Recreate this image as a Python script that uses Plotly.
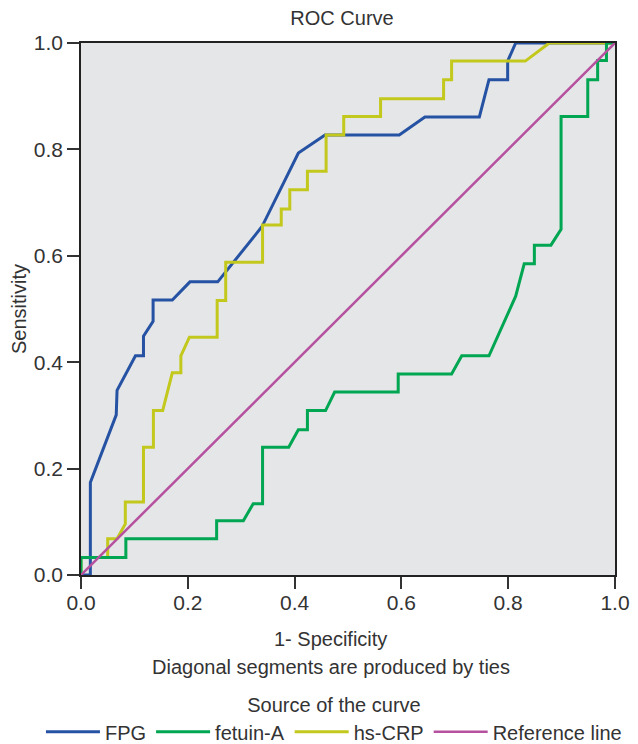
import plotly.graph_objects as go

# ---- data ----
fpg_x = [0, 0.0175, 0.0175, 0.066, 0.0675, 0.102, 0.117, 0.117, 0.135, 0.135, 0.171, 0.204,
         0.256, 0.339, 0.407, 0.457, 0.596, 0.644, 0.746, 0.764, 0.799, 0.799, 0.814, 1.0]
fpg_y = [0, 0, 0.174, 0.301, 0.347, 0.412, 0.412, 0.449, 0.477, 0.517, 0.517, 0.551,
         0.551, 0.655, 0.793, 0.827, 0.827, 0.861, 0.861, 0.931, 0.931, 0.966, 1.0, 1.0]

fetuin_x = [0, 0, 0.084, 0.084, 0.254, 0.254, 0.304, 0.3225, 0.340, 0.340, 0.389, 0.407,
            0.424, 0.424, 0.458, 0.475, 0.594, 0.594, 0.694, 0.713, 0.764, 0.814, 0.830,
            0.849, 0.849, 0.880, 0.899, 0.899, 0.949, 0.949, 0.9675, 0.9675, 0.984, 0.984, 1.0]
fetuin_y = [0, 0.033, 0.033, 0.068, 0.068, 0.102, 0.102, 0.134, 0.134, 0.240, 0.240, 0.273,
            0.273, 0.309, 0.309, 0.344, 0.344, 0.378, 0.378, 0.412, 0.412, 0.524, 0.585,
            0.585, 0.620, 0.620, 0.650, 0.862, 0.862, 0.931, 0.931, 0.967, 0.967, 1.0, 1.0]

crp_x = [0, 0, 0.05, 0.05, 0.0675, 0.083, 0.083, 0.117, 0.117, 0.1356, 0.1356, 0.153, 0.171,
         0.187, 0.187, 0.203, 0.255, 0.255, 0.271, 0.271, 0.340, 0.340, 0.375, 0.375, 0.391,
         0.391, 0.424, 0.424, 0.459, 0.459, 0.492, 0.492, 0.561, 0.561, 0.679, 0.679, 0.694,
         0.694, 0.832, 0.877, 1.0]
crp_y = [0, 0.033, 0.033, 0.068, 0.068, 0.096, 0.137, 0.137, 0.240, 0.240, 0.309, 0.309, 0.380,
         0.380, 0.412, 0.447, 0.447, 0.516, 0.516, 0.588, 0.588, 0.658, 0.658, 0.688, 0.688,
         0.724, 0.724, 0.759, 0.759, 0.827, 0.827, 0.862, 0.862, 0.895, 0.895, 0.931, 0.931,
         0.966, 0.966, 1.0, 1.0]

ref_x = [0, 1]
ref_y = [0, 1]

tick_vals = [0, 0.2, 0.4, 0.6, 0.8, 1.0]
tick_text = ["0.0", "0.2", "0.4", "0.6", "0.8", "1.0"]

FONT = "Liberation Sans, Arial, sans-serif"
TXT = "#333333"

fig = go.Figure()
fig.add_trace(go.Scatter(x=fpg_x, y=fpg_y, mode="lines", name="FPG", legendrank=1,
                         line=dict(color="#2552a3", width=3)))
fig.add_trace(go.Scatter(x=crp_x, y=crp_y, mode="lines", name="hs-CRP", legendrank=3,
                         line=dict(color="#c3c81c", width=3)))
fig.add_trace(go.Scatter(x=fetuin_x, y=fetuin_y, mode="lines", name="fetuin-A", legendrank=2,
                         line=dict(color="#00a651", width=3)))
fig.add_trace(go.Scatter(x=ref_x, y=ref_y, mode="lines", name="Reference line", legendrank=4,
                         line=dict(color="#b5519f", width=2.5)))

axis_common = dict(range=[0, 1], tickvals=tick_vals, ticktext=tick_text, ticks="outside",
                   ticklen=12, tickwidth=1.5, tickcolor="#333", showline=True,
                   linecolor="#222", linewidth=1.5, mirror=True, showgrid=False,
                   zeroline=False, automargin=False,
                   tickfont=dict(family=FONT, size=21, color=TXT))

# the page body adds an 8px offset, so the figure is sized 8px smaller
fig.update_layout(
    width=630, height=736,
    margin=dict(l=73, r=23, t=35, b=169, autoexpand=False),
    paper_bgcolor="white", plot_bgcolor="#e5e6e8",
    font=dict(family=FONT, size=20, color=TXT),
    title=dict(text="ROC Curve", x=334 / 630, xanchor="center", y=1 - 10 / 736,
               yanchor="middle", font=dict(family=FONT, size=20, color=TXT)),
    xaxis=dict(**axis_common, ticklabelstandoff=-4),
    yaxis=dict(**axis_common, title=dict(text="Sensitivity", standoff=8,
                                         font=dict(family=FONT, size=20, color=TXT))),
    showlegend=True,
    legend=dict(orientation="h", x=-0.075, xanchor="left", y=-0.209, yanchor="top",
                itemwidth=54, traceorder="normal", bgcolor="rgba(0,0,0,0)",
                font=dict(family=FONT, size=20, color=TXT),
                title=dict(text="Source of the curve", side="top center",
                           font=dict(family=FONT, size=20, color=TXT))),
    annotations=[
        dict(text="1- Specificity", xref="paper", yref="paper", x=0.468, y=-0.120,
             xanchor="center", yanchor="middle", showarrow=False,
             font=dict(family=FONT, size=20, color=TXT)),
        dict(text="Diagonal segments are produced by ties", xref="paper", yref="paper",
             x=0.468, y=-0.173, xanchor="center", yanchor="middle", showarrow=False,
             font=dict(family=FONT, size=20, color=TXT)),
    ],
)

fig.write_html("out.html")
